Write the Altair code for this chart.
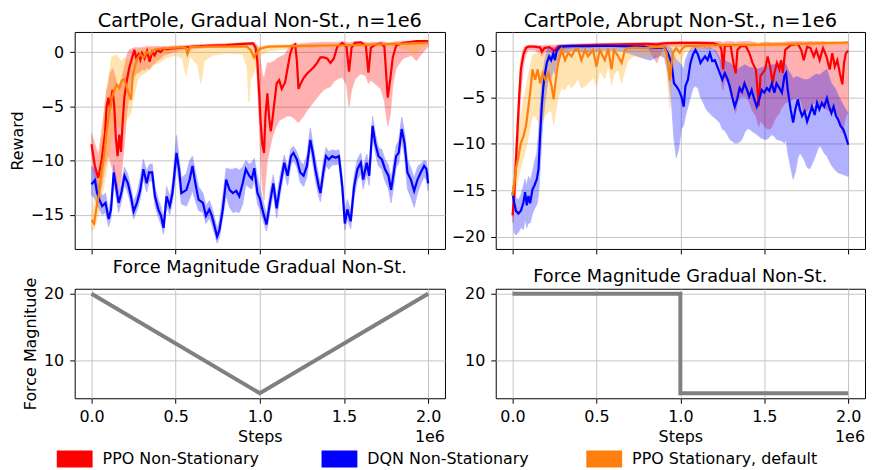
import altair as alt
import pandas as pd

FONT = "DejaVu Sans"
SERIES = ["PPO Non-Stationary", "DQN Non-Stationary", "PPO Stationary, default"]
LINE_COLORS = ["#ff0000", "#0000ff", "#ff7f0e"]
BAND_COLORS = ["#ff0000", "#0000ff", "#ffa500"]

TITLES_TOP = ["CartPole, Gradual Non-St., n=1e6", "CartPole, Abrupt Non-St., n=1e6"]
TITLES_BOTTOM = ["Force Magnitude Gradual Non-St.", "Force Magnitude Gradual Non-St."]
X_TICKS = [0.0, 0.5, 1.0, 1.5, 2.0]

# rows: (step in 1e6, mean, lower, upper)
PPO_NS_GRADUAL = [
    (0.0, -8.5, -9.5, -7.5), (0.02, -10.5, -12.0, -8.5), (0.04, -11.6, -13.0, -9.5),
    (0.06, -10.0, -12.5, -7.5), (0.08, -7.5, -10.5, -5.0), (0.09, -5.0, -10.0, -3.5),
    (0.10, -4.2, -9.5, -3.0), (0.11, -5.2, -10.0, -2.0), (0.125, -3.5, -10.8, -1.5),
    (0.135, -5.0, -11.5, -2.0), (0.145, -8.0, -12.5, -2.5), (0.155, -9.6, -13.0, -3.5),
    (0.165, -7.6, -12.5, -3.0), (0.175, -9.2, -11.8, -3.0), (0.185, -6.5, -10.0, -2.0),
    (0.195, -4.2, -8.5, -1.5), (0.21, -2.6, -5.5, -0.3), (0.225, -1.4, -3.8, 0.2),
    (0.24, -0.6, -2.8, 0.3), (0.255, 0.2, -2.2, 0.4), (0.265, -0.5, -2.0, 0.4),
    (0.28, -0.2, -1.9, 0.4), (0.29, -0.7, -1.8, 0.4), (0.30, -0.1, -1.6, 0.45),
    (0.315, -0.6, -1.7, 0.45), (0.33, 0.1, -1.5, 0.5), (0.345, -0.9, -1.6, 0.5),
    (0.36, 0.0, -1.2, 0.5), (0.375, -0.3, -1.0, 0.5), (0.39, 0.2, -0.8, 0.5),
    (0.41, 0.0, -0.6, 0.5), (0.43, 0.3, -0.3, 0.5), (0.45, 0.25, -0.2, 0.5),
    (0.47, 0.3, -0.1, 0.55), (0.50, 0.35, 0.05, 0.55), (0.60, 0.5, 0.3, 0.65),
    (0.70, 0.6, 0.45, 0.72), (0.80, 0.65, 0.5, 0.78), (0.90, 0.75, 0.6, 0.85),
    (0.96, 0.8, 0.65, 0.9), (0.975, 0.4, -0.5, 0.8), (0.985, -0.8, -2.5, 0.6),
    (0.995, -3.5, -6.0, 0.0), (1.005, -6.5, -9.5, -1.0), (1.015, -8.5, -12.5, -2.0),
    (1.025, -9.3, -13.6, -2.5), (1.033, -6.0, -12.0, -1.8), (1.045, -3.8, -10.0, -1.0),
    (1.055, -6.0, -9.2, -1.0), (1.065, -7.3, -8.5, -1.0), (1.075, -6.2, -7.8, -0.9),
    (1.09, -4.2, -7.1, -0.8), (1.10, -2.9, -6.8, -0.6), (1.115, -2.6, -6.3, -0.5),
    (1.13, -3.4, -6.2, -0.4), (1.15, -2.8, -6.0, -0.2), (1.165, -1.5, -5.9, 0.2),
    (1.18, -0.2, -5.9, 0.6), (1.195, 0.5, -6.0, 0.75), (1.21, 0.7, -6.2, 0.8),
    (1.22, -0.8, -6.4, 0.8), (1.23, -3.4, -6.5, 0.7), (1.24, -3.0, -6.3, 0.75),
    (1.26, -2.4, -5.9, 0.8), (1.28, -2.0, -5.4, 0.8), (1.30, -1.7, -5.0, 0.85),
    (1.32, -1.4, -4.6, 0.85), (1.34, -1.0, -4.2, 0.85), (1.36, -0.5, -3.8, 0.9),
    (1.38, -0.5, -3.5, 0.9), (1.40, -0.6, -3.3, 0.9), (1.42, -1.0, -3.2, 0.9),
    (1.44, -0.6, -2.7, 0.9), (1.46, 0.5, -2.5, 0.9), (1.49, 0.85, -2.3, 0.95),
    (1.515, 0.5, -3.0, 0.9), (1.53, -1.8, -5.0, 0.85), (1.545, 0.4, -3.5, 0.9),
    (1.565, 0.85, -2.5, 0.95), (1.60, 0.9, -2.0, 0.95), (1.63, 0.6, -2.2, 0.9),
    (1.645, -1.9, -2.9, 0.85), (1.66, 0.4, -2.6, 0.9), (1.69, 0.7, -3.0, 0.9),
    (1.72, 0.8, -3.4, 0.95), (1.74, 0.5, -4.5, 0.9), (1.76, -4.2, -6.8, 0.8),
    (1.775, -2.5, -5.8, 0.85), (1.79, -0.5, -3.0, 0.9), (1.81, 0.6, -1.5, 0.95),
    (1.85, 0.85, -0.6, 1.0), (1.90, 0.95, -0.3, 1.0), (1.93, 1.0, -0.8, 1.05),
    (1.96, 1.0, -0.2, 1.05), (2.00, 1.0, 0.5, 1.05),
]

PPO_S_GRADUAL = [
    (0.0, -15.5, -16.5, -15.0), (0.015, -15.8, -16.3, -14.0), (0.03, -14.3, -15.6, -12.0),
    (0.045, -13.0, -14.8, -10.0), (0.06, -11.0, -13.5, -7.5), (0.075, -9.5, -12.2, -5.5),
    (0.09, -7.3, -11.0, -3.5), (0.105, -5.6, -9.5, -2.0), (0.12, -4.3, -8.0, -0.5),
    (0.135, -3.5, -7.2, -0.3), (0.15, -3.0, -6.6, -0.3), (0.165, -3.3, -6.8, -0.6),
    (0.18, -2.6, -7.2, -0.9), (0.195, -2.5, -6.8, -0.5), (0.21, -3.3, -6.2, -0.6),
    (0.225, -4.0, -5.8, -0.8), (0.235, -4.4, -5.6, -0.5), (0.245, -2.2, -4.5, -0.2),
    (0.26, -1.2, -3.5, 0.0), (0.275, -0.5, -2.6, 0.2), (0.29, -0.2, -2.2, 0.25),
    (0.31, -0.5, -2.0, 0.3), (0.33, 0.0, -1.8, 0.3), (0.35, -0.2, -1.5, 0.35),
    (0.37, 0.2, -1.2, 0.4), (0.40, 0.3, -1.0, 0.4), (0.45, 0.35, -0.5, 0.45),
    (0.50, 0.4, -0.3, 0.5), (0.54, 0.45, -0.6, 0.5), (0.56, 0.4, -2.2, 0.5),
    (0.57, -0.2, -1.5, 0.5), (0.585, 0.45, -0.4, 0.5), (0.63, 0.5, -1.2, 0.55),
    (0.65, 0.45, -2.9, 0.55), (0.67, 0.5, -0.8, 0.55), (0.72, 0.5, -0.3, 0.55),
    (0.80, 0.5, -0.1, 0.55), (0.90, 0.5, -0.2, 0.6), (0.925, 0.5, -1.5, 0.6),
    (0.935, 0.3, -4.6, 0.6), (0.945, 0.2, -2.5, 0.6), (0.965, -0.5, -2.0, 0.55),
    (0.98, -0.1, -1.0, 0.5), (1.0, 0.3, -0.4, 0.55), (1.05, 0.5, 0.1, 0.62),
    (1.2, 0.55, 0.35, 0.68), (1.4, 0.6, 0.45, 0.72), (1.6, 0.65, 0.5, 0.78),
    (1.8, 0.75, 0.5, 0.85), (1.88, 0.78, 0.2, 0.88), (1.92, 0.8, -0.3, 0.9),
    (1.96, 0.82, 0.4, 0.92), (2.0, 0.85, 0.7, 0.95),
]

DQN_GRADUAL = [
    (0.0, -12.2, -13.2, -10.5), (0.02, -11.8, -13.5, -10.8), (0.033, -13.0, -14.0, -11.8),
    (0.047, -13.6, -14.5, -12.6), (0.063, -14.2, -15.0, -13.3), (0.083, -13.9, -14.8, -13.0),
    (0.102, -15.4, -16.1, -14.6), (0.116, -14.5, -15.3, -13.5), (0.132, -11.1, -12.0, -10.4),
    (0.146, -12.4, -13.3, -11.6), (0.161, -13.9, -14.8, -13.0), (0.177, -13.0, -13.8, -12.2),
    (0.196, -11.4, -12.2, -10.6), (0.216, -12.1, -13.0, -11.3), (0.234, -13.3, -14.1, -12.5),
    (0.25, -14.7, -15.4, -13.8), (0.27, -13.9, -14.6, -13.0), (0.29, -12.7, -13.5, -11.6),
    (0.308, -10.8, -11.7, -9.9), (0.328, -12.1, -12.9, -11.0), (0.342, -11.1, -11.9, -10.4),
    (0.36, -11.1, -11.9, -10.3), (0.377, -13.3, -14.2, -12.5), (0.397, -14.5, -15.2, -13.6),
    (0.413, -15.1, -15.9, -14.3), (0.428, -16.2, -16.8, -15.3), (0.446, -13.3, -14.2, -12.4),
    (0.465, -14.2, -15.0, -13.3), (0.481, -13.0, -13.8, -12.0), (0.505, -9.3, -10.5, -7.7),
    (0.52, -10.8, -12.0, -9.8), (0.534, -13.0, -14.0, -11.6), (0.564, -12.7, -14.2, -11.2),
    (0.583, -11.75, -13.5, -10.0), (0.6, -10.5, -12.8, -9.6), (0.617, -12.1, -13.7, -11.0),
    (0.636, -13.6, -14.6, -12.4), (0.662, -13.9, -14.8, -13.0), (0.68, -15.1, -15.8, -14.2),
    (0.7, -14.5, -15.3, -13.7), (0.715, -15.1, -15.9, -14.3), (0.73, -16.0, -16.7, -15.2),
    (0.746, -17.0, -17.6, -16.3), (0.76, -16.4, -17.1, -15.5), (0.78, -14.5, -15.3, -13.3),
    (0.8, -11.75, -13.2, -10.7), (0.82, -12.7, -14.3, -10.8), (0.84, -13.0, -14.8, -10.8),
    (0.86, -12.8, -14.7, -10.7), (0.878, -13.3, -14.8, -10.9), (0.898, -12.1, -14.0, -10.6),
    (0.917, -10.8, -12.2, -10.0), (0.937, -11.4, -12.5, -10.3), (0.953, -11.7, -12.6, -10.2),
    (0.967, -10.7, -11.8, -9.8), (0.986, -13.0, -14.0, -11.5), (1.0, -13.5, -14.5, -12.5),
    (1.02, -14.8, -15.6, -13.8), (1.04, -15.9, -16.5, -15.0), (1.06, -13.9, -14.7, -12.9),
    (1.08, -12.1, -13.0, -11.3), (1.1, -14.4, -15.3, -13.4), (1.12, -12.4, -13.2, -11.4),
    (1.145, -10.2, -11.0, -9.5), (1.165, -11.4, -12.3, -10.6), (1.185, -9.6, -10.4, -8.9),
    (1.2, -9.3, -10.0, -8.7), (1.22, -9.9, -10.6, -9.2), (1.24, -11.1, -12.0, -10.1),
    (1.26, -11.4, -12.4, -10.4), (1.28, -10.5, -11.5, -9.5), (1.3, -8.1, -9.0, -7.0),
    (1.315, -9.3, -10.3, -8.4), (1.33, -10.8, -11.8, -9.8), (1.35, -12.4, -13.3, -11.4),
    (1.36, -13.0, -13.8, -12.2), (1.377, -11.1, -12.0, -10.1), (1.393, -9.6, -10.5, -8.8),
    (1.41, -9.9, -10.8, -9.2), (1.43, -9.6, -10.4, -9.0), (1.45, -9.75, -10.4, -9.1),
    (1.47, -9.6, -10.3, -9.0), (1.49, -12.4, -13.4, -11.5), (1.505, -15.8, -16.4, -14.8),
    (1.52, -14.5, -15.4, -13.6), (1.54, -15.6, -16.3, -14.6), (1.56, -12.4, -13.4, -11.4),
    (1.58, -10.8, -11.8, -9.9), (1.6, -10.2, -11.2, -9.3), (1.614, -11.75, -12.6, -10.7),
    (1.635, -10.2, -11.2, -9.4), (1.65, -11.4, -12.3, -10.4), (1.67, -6.8, -7.8, -5.9),
    (1.686, -8.4, -9.3, -7.5), (1.705, -9.6, -10.5, -8.8), (1.725, -9.9, -10.8, -9.0),
    (1.744, -10.8, -11.9, -9.9), (1.764, -11.4, -12.6, -10.4), (1.78, -12.7, -13.9, -11.7),
    (1.796, -11.1, -12.3, -10.0), (1.81, -9.6, -10.6, -8.6), (1.825, -9.3, -10.3, -8.2),
    (1.843, -7.1, -8.2, -6.0), (1.86, -8.4, -9.6, -7.4), (1.877, -11.1, -12.6, -9.9),
    (1.897, -11.75, -13.4, -10.7), (1.917, -12.8, -14.3, -11.6), (1.937, -11.75, -13.0, -10.6),
    (1.956, -11.1, -12.2, -10.3), (1.976, -10.5, -11.5, -10.0), (1.99, -10.8, -11.8, -10.1),
    (2.0, -12.1, -12.8, -11.2),
]

PPO_NS_ABRUPT = [
    (0.0, -17.7, -18.5, -16.5), (0.01, -15.6, -17.0, -14.0), (0.02, -12.0, -14.0, -10.0),
    (0.03, -8.4, -11.0, -6.5), (0.04, -4.9, -7.5, -3.0), (0.05, -2.0, -4.5, -1.0),
    (0.065, -0.4, -1.5, 0.3), (0.08, 0.3, -0.4, 0.55), (0.095, 0.45, 0.1, 0.6),
    (0.13, 0.45, 0.1, 0.6), (0.165, 0.35, -0.3, 0.6), (0.175, -0.1, -0.6, 0.55),
    (0.19, 0.3, -0.2, 0.6), (0.22, 0.4, 0.0, 0.6), (0.25, 0.0, -0.5, 0.6),
    (0.27, 0.45, 0.0, 0.65), (0.35, 0.55, 0.3, 0.7), (0.5, 0.65, 0.4, 0.8),
    (0.65, 0.7, 0.45, 0.85), (0.8, 0.75, 0.5, 0.9), (0.86, 0.7, -1.3, 0.9),
    (0.9, 0.8, 0.5, 0.95), (1.0, 0.85, 0.5, 1.0), (1.1, 0.85, 0.4, 1.0),
    (1.2, 0.8, 0.2, 1.0), (1.235, 0.6, -1.0, 1.0), (1.245, 0.1, -3.5, 0.95),
    (1.255, -2.0, -4.2, 0.9), (1.265, 0.5, -3.0, 0.95), (1.285, 0.6, -3.5, 1.0),
    (1.3, 0.5, -4.5, 1.0), (1.32, -1.7, -6.0, 0.95), (1.33, -2.4, -6.7, 0.9),
    (1.34, 0.1, -5.5, 0.95), (1.36, 0.5, -4.9, 1.0), (1.39, 0.5, -4.9, 1.0),
    (1.41, -0.2, -5.5, 1.0), (1.43, -1.3, -6.5, 0.95), (1.45, -2.0, -7.0, 0.9),
    (1.467, -5.95, -8.1, 0.5), (1.477, -2.7, -7.5, 0.85), (1.49, -2.4, -7.8, 0.9),
    (1.505, -2.0, -8.2, 0.9), (1.52, -0.6, -8.4, 0.95), (1.535, -1.7, -8.4, 0.9),
    (1.55, -3.5, -8.0, 0.85), (1.56, -2.4, -7.5, 0.9), (1.575, -1.3, -7.0, 0.9),
    (1.59, -2.0, -6.7, 0.9), (1.6, -1.0, -6.2, 0.95), (1.61, -2.4, -6.0, 0.9),
    (1.625, 0.1, -5.6, 0.95), (1.66, 0.65, -5.3, 1.0), (1.7, 0.75, -5.0, 1.0),
    (1.72, 0.1, -5.5, 1.0), (1.735, -1.0, -6.7, 0.95), (1.755, 0.45, -6.5, 1.0),
    (1.775, 0.3, -6.0, 1.0), (1.795, -0.6, -5.6, 0.95), (1.81, 0.1, -5.6, 1.0),
    (1.83, -1.0, -5.8, 0.95), (1.85, 0.3, -6.0, 1.0), (1.87, -0.6, -6.3, 0.95),
    (1.89, -2.0, -6.5, 0.9), (1.905, -0.25, -6.2, 0.95), (1.92, -1.7, -6.5, 0.9),
    (1.935, -1.0, -7.0, 0.9), (1.95, -2.4, -7.8, 0.9), (1.965, -3.6, -8.8, 0.85),
    (1.975, -1.3, -8.0, 0.9), (1.986, -0.25, -7.0, 0.95), (2.0, 0.0, -6.7, 0.95),
]

PPO_S_ABRUPT = [
    (0.0, -15.6, -16.5, -14.8), (0.01, -14.5, -16.0, -13.0), (0.02, -12.7, -15.0, -11.0),
    (0.036, -11.3, -13.5, -8.5), (0.05, -9.9, -12.5, -7.0), (0.065, -9.2, -11.5, -5.5),
    (0.08, -8.1, -10.5, -4.0), (0.095, -6.0, -9.2, -2.5), (0.107, -4.2, -8.0, -1.5),
    (0.119, -2.0, -7.0, -0.5), (0.135, -3.1, -7.0, -0.3), (0.15, -2.0, -7.5, -0.2),
    (0.165, -3.5, -8.0, -0.5), (0.18, -2.4, -7.5, -0.3), (0.195, -3.1, -7.0, -0.3),
    (0.214, -2.4, -6.5, -0.1), (0.233, -3.8, -6.5, -0.3), (0.245, -5.2, -8.0, -1.0),
    (0.258, -3.1, -6.5, -0.3), (0.272, -1.3, -5.0, 0.2), (0.293, 0.1, -4.0, 0.4),
    (0.313, -1.0, -4.2, 0.45), (0.332, -0.2, -3.5, 0.5), (0.352, -0.6, -4.0, 0.5),
    (0.372, 0.1, -3.5, 0.5), (0.39, 0.25, -3.0, 0.55), (0.41, -1.0, -4.0, 0.55),
    (0.432, 0.1, -3.8, 0.55), (0.45, -0.6, -3.5, 0.55), (0.48, 0.1, -2.8, 0.6),
    (0.5, -1.7, -3.8, 0.6), (0.52, 0.1, -2.2, 0.6), (0.55, -1.0, -3.0, 0.6),
    (0.57, 0.25, -1.5, 0.6), (0.59, -2.0, -3.7, 0.6), (0.605, 0.1, -2.5, 0.6),
    (0.63, -0.6, -2.0, 0.6), (0.65, -1.3, -3.5, 0.6), (0.67, 0.1, -2.0, 0.6),
    (0.69, 0.3, -1.0, 0.65), (0.73, 0.35, -0.5, 0.65), (0.79, 0.3, -0.8, 0.65),
    (0.85, 0.4, -0.5, 0.7), (0.9, 0.4, -0.5, 0.7), (0.917, -0.2, -1.5, 0.7),
    (0.93, -1.7, -4.5, 0.6), (0.937, -3.2, -6.2, 0.5), (0.947, -1.5, -4.0, 0.6),
    (0.956, -0.2, -2.0, 0.65), (0.975, 0.3, -1.0, 0.7), (0.996, -0.2, -1.5, 0.7),
    (1.01, 0.2, -0.8, 0.7), (1.03, 0.5, 0.0, 0.75), (1.2, 0.6, 0.3, 0.8),
    (1.4, 0.65, 0.4, 0.85), (1.6, 0.7, 0.45, 0.9), (1.8, 0.8, 0.55, 0.95),
    (2.0, 0.9, 0.7, 1.0),
]

DQN_ABRUPT = [
    (0.0, -15.2, -17.0, -14.5), (0.01, -16.3, -19.5, -15.0), (0.02, -17.2, -19.8, -15.8),
    (0.035, -17.5, -19.5, -16.0), (0.05, -17.2, -19.0, -15.5), (0.065, -16.3, -19.2, -14.5),
    (0.075, -15.2, -18.0, -13.8), (0.085, -16.6, -19.0, -14.5), (0.095, -15.6, -18.5, -13.5),
    (0.105, -16.4, -18.5, -14.0), (0.119, -14.9, -17.5, -13.0), (0.13, -14.5, -17.0, -12.0),
    (0.145, -13.8, -16.5, -11.0), (0.155, -12.7, -15.5, -9.0), (0.164, -9.2, -13.0, -6.0),
    (0.174, -6.0, -9.5, -3.5), (0.184, -3.8, -7.0, -2.0), (0.194, -2.4, -5.5, -0.8),
    (0.204, -1.3, -4.0, 0.0), (0.218, -0.6, -2.8, 0.3), (0.23, -1.0, -3.0, 0.2),
    (0.243, -0.3, -2.0, 0.4), (0.253, -1.0, -2.5, 0.3), (0.263, 0.0, -1.2, 0.5),
    (0.283, 0.45, -0.4, 0.6), (0.35, 0.5, 0.0, 0.7), (0.45, 0.5, -0.2, 0.7),
    (0.55, 0.55, 0.1, 0.7), (0.65, 0.5, 0.0, 0.7), (0.78, 0.45, -0.8, 0.7),
    (0.82, 0.3, -1.0, 0.65), (0.88, 0.35, -0.5, 0.65), (0.907, 0.3, -0.8, 0.6),
    (0.927, -0.3, -2.5, 0.5), (0.947, -1.3, -5.5, 0.3), (0.962, -3.5, -9.5, -0.5),
    (0.976, -3.8, -11.5, -1.0), (0.99, -4.2, -10.5, -1.2), (1.006, -4.9, -8.4, -1.5),
    (1.02, -6.0, -8.0, -2.0), (1.03, -3.8, -7.0, -1.0), (1.045, -3.1, -6.0, -0.3),
    (1.06, -1.3, -5.0, 0.2), (1.075, -0.4, -4.0, 0.4), (1.09, 0.1, -3.8, 0.5),
    (1.105, -0.4, -4.0, 0.4), (1.12, -1.3, -5.0, 0.3), (1.135, -0.9, -5.5, 0.3),
    (1.147, -0.6, -6.0, 0.4), (1.162, -1.0, -6.5, 0.3), (1.176, -0.25, -6.7, 0.4),
    (1.19, -1.1, -7.0, 0.2), (1.206, -1.0, -7.2, 0.1), (1.22, -1.7, -7.5, -0.3),
    (1.235, -2.4, -7.7, -0.8), (1.25, -3.1, -8.4, -1.3), (1.265, -2.4, -8.6, -1.0),
    (1.28, -3.0, -9.0, -1.2), (1.294, -3.8, -9.5, -1.3), (1.308, -4.9, -9.7, -1.5),
    (1.324, -6.0, -9.9, -2.0), (1.338, -5.2, -9.9, -2.0), (1.353, -4.0, -9.8, -1.8),
    (1.367, -4.4, -9.5, -1.7), (1.382, -3.5, -8.8, -1.5), (1.397, -4.2, -8.4, -1.6),
    (1.41, -4.9, -8.4, -1.8), (1.425, -4.2, -8.6, -1.8), (1.44, -5.2, -8.8, -1.9),
    (1.455, -6.0, -9.0, -2.0), (1.47, -5.2, -9.2, -1.9), (1.485, -4.2, -9.4, -1.8),
    (1.5, -4.5, -9.5, -1.7), (1.515, -4.0, -9.5, -1.6), (1.53, -4.3, -9.3, -1.6),
    (1.545, -3.5, -9.0, -1.5), (1.56, -4.5, -9.2, -1.5), (1.573, -3.5, -9.5, -1.4),
    (1.59, -4.0, -9.6, -1.3), (1.605, -4.5, -9.7, -1.4), (1.62, -2.7, -9.9, -1.3),
    (1.63, -2.4, -9.5, -1.5), (1.64, -4.2, -11.0, -2.0), (1.657, -6.3, -12.5, -2.5),
    (1.672, -7.7, -13.8, -3.0), (1.685, -6.3, -13.0, -2.8), (1.7, -5.2, -11.5, -2.8),
    (1.712, -6.3, -11.0, -2.9), (1.725, -7.0, -11.3, -3.0), (1.74, -6.5, -11.8, -3.1),
    (1.755, -7.6, -12.5, -3.1), (1.77, -6.8, -12.7, -3.0), (1.784, -6.0, -12.2, -2.8),
    (1.8, -6.9, -11.5, -2.6), (1.814, -5.6, -10.8, -2.5), (1.828, -6.3, -10.2, -2.6),
    (1.843, -5.6, -10.5, -2.4), (1.857, -6.0, -11.0, -2.2), (1.873, -5.1, -11.3, -2.0),
    (1.886, -6.0, -11.8, -2.8), (1.9, -6.7, -12.3, -3.5), (1.913, -6.0, -12.6, -3.8),
    (1.927, -7.0, -12.9, -4.2), (1.94, -7.4, -13.1, -4.8), (1.955, -8.1, -13.2, -5.3),
    (1.97, -8.4, -13.3, -5.8), (1.985, -9.2, -13.4, -6.3), (2.0, -10.1, -13.5, -6.7),
]

# Force magnitude schedules
FORCE_GRADUAL_STEPS = [0.0, 1.0, 2.0]
FORCE_GRADUAL_VALUES = [20, 5, 20]
FORCE_ABRUPT_STEPS = [0.0, 1.0, 1.0, 2.0]
FORCE_ABRUPT_VALUES = [20, 20, 5, 5]

W_L, W_R = 372, 371
H_TOP, H_BOT = 218, 110
X_DOMAIN = [-0.1, 2.1]
RECT = "M-1,-0.47H1V0.47H-1Z"


def frame(groups):
    rows = []
    for name, data in zip(SERIES, groups):
        for t, m, lo, hi in data:
            rows.append({"series": name, "t": t, "m": m, "lo": lo, "hi": hi})
    return pd.DataFrame(rows)


line_scale = alt.Scale(domain=SERIES, range=LINE_COLORS)
band_scale = alt.Scale(domain=SERIES, range=BAND_COLORS)


def title_params(text, size, offset):
    return alt.TitleParams(text, fontSize=size, font=FONT, fontWeight="normal",
                           color="black", offset=offset)


def xaxis(labels, title=None):
    return alt.Axis(values=X_TICKS, format=".1f", labels=labels, title=title,
                    grid=True, titlePadding=4, labelPadding=5)


def top_panel(groups, title, ydom, yticks, ytitle, width):
    df = frame(groups)
    x = alt.X("t:Q", scale=alt.Scale(domain=X_DOMAIN, nice=False, zero=False),
              axis=xaxis(False))
    yscale = alt.Scale(domain=ydom, nice=False, zero=False)
    band = alt.Chart(df).mark_area(opacity=0.3, strokeWidth=0.8).encode(
        x=x,
        y=alt.Y("lo:Q", scale=yscale,
                axis=alt.Axis(values=yticks, format="d", title=ytitle)),
        y2="hi:Q",
        fill=alt.Fill("series:N", scale=band_scale, legend=None),
        stroke=alt.Stroke("series:N", scale=band_scale, legend=None),
        detail="series:N",
    )
    line = alt.Chart(df).mark_line(strokeWidth=2.2).encode(
        x=x,
        y=alt.Y("m:Q", scale=yscale),
        color=alt.Color("series:N", scale=line_scale, legend=None),
        order="t:Q",
    )
    return alt.layer(band, line).properties(width=width, height=H_TOP,
                                            title=title_params(title, 19.4, 1))


def bottom_panel(steps, values, title, ytitle, width):
    df = pd.DataFrame({"t": steps, "v": values, "i": list(range(len(steps)))})
    x = alt.X("t:Q", scale=alt.Scale(domain=X_DOMAIN, nice=False, zero=False),
              axis=xaxis(True, "Steps"))
    line = alt.Chart(df).mark_line(color="#808080", strokeWidth=4).encode(
        x=x,
        y=alt.Y("v:Q", scale=alt.Scale(domain=[4.25, 20.75], nice=False, zero=False),
                axis=alt.Axis(values=[10, 20], format="d", title=ytitle)),
        order="i:Q",
    )
    offset_text = alt.Chart(pd.DataFrame({"lab": ["1e6"]})).mark_text(
        align="right", baseline="middle", font=FONT, fontSize=16, color="black"
    ).encode(text="lab:N", x=alt.value(width), y=alt.value(H_BOT + 39))
    return alt.layer(line, offset_text).properties(width=width, height=H_BOT,
                                                   title=title_params(title, 17.8, 0))


tl = top_panel([PPO_NS_GRADUAL, DQN_GRADUAL, PPO_S_GRADUAL], TITLES_TOP[0],
               [-18.15, 1.85], [-15, -10, -5, 0], "Reward", W_L)
tr = top_panel([PPO_NS_ABRUPT, DQN_ABRUPT, PPO_S_ABRUPT], TITLES_TOP[1],
               [-21.3, 2.03], [-20, -15, -10, -5, 0], None, W_R)
bl = bottom_panel(FORCE_GRADUAL_STEPS, FORCE_GRADUAL_VALUES, TITLES_BOTTOM[0],
                  "Force Magnitude", W_L)
br = bottom_panel(FORCE_ABRUPT_STEPS, FORCE_ABRUPT_VALUES, TITLES_BOTTOM[1],
                  None, W_R)

grid = alt.concat(tl, tr, bl, br, columns=2, spacing={"row": 4, "column": 4},
                  align="each")

# legend row: one patch + label per series, positioned by a point scale
legend_df = pd.DataFrame({"series": SERIES})
lx = alt.X("series:N", scale=alt.Scale(domain=SERIES, type="point", padding=0),
           axis=None)
patches = alt.Chart(legend_df).mark_point(
    shape=RECT, filled=True, opacity=1, size=1296
).encode(x=lx, color=alt.Color("series:N", scale=line_scale, legend=None))
labels = alt.Chart(legend_df).mark_text(
    align="left", baseline="middle", dx=28, font=FONT, fontSize=16, color="black"
).encode(x=lx, text="series:N")
legend_row = alt.layer(patches, labels).properties(
    width=532, height=18, view=alt.ViewBackground(strokeWidth=0)
)

chart = alt.vconcat(grid, legend_row, spacing=4).properties(
    padding={"left": 0, "top": 1, "right": 0, "bottom": 0},
    background="white",
).configure_view(
    stroke="black", strokeWidth=1,
).configure_axis(
    labelFont=FONT, labelFontSize=16, labelColor="black",
    titleFont=FONT, titleFontSize=16, titleColor="black", titleFontWeight="normal",
    tickColor="black", tickSize=5, tickWidth=1, labelPadding=6,
    domain=False, gridColor="#c4c4c4", gridWidth=1, titlePadding=5,
)

chart.save("out.html", embed_options={"renderer": "svg", "actions": False})
